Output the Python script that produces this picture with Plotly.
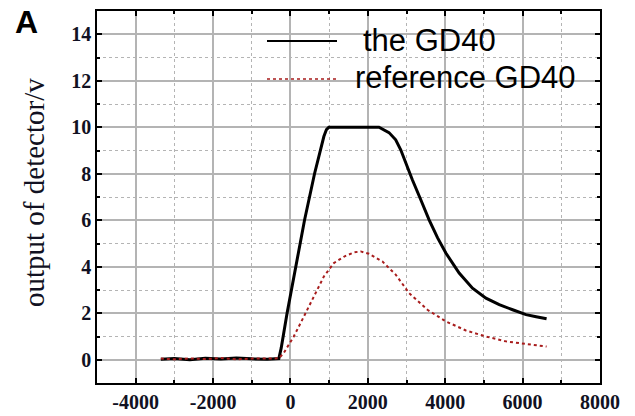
import plotly.graph_objects as go

# ---- data ----
gd40_x = [-3350, -3000, -2600, -2200, -1800, -1400, -1000, -600, -300,
          -240, -88, 130, 363, 622, 777, 863, 930, 992, 1500, 2000, 2288,
          2547, 2720, 2850, 2979, 3150, 3368, 3583, 3800, 4016, 4360, 4705,
          5052, 5396, 5741, 6088, 6350, 6620]
gd40_y = [0.02, 0.05, 0.0, 0.06, 0.03, 0.08, 0.04, 0.02, 0.05,
          0.5, 2.0, 4.0, 6.0, 8.0, 9.0, 9.6, 9.9, 10.0, 10.0, 10.0, 10.0,
          9.77, 9.46, 9.03, 8.46, 7.74, 6.88, 6.02, 5.25, 4.59, 3.73, 3.08,
          2.65, 2.37, 2.15, 1.94, 1.85, 1.76]

ref_x = [-3350, -3000, -2600, -2200, -1800, -1400, -1000, -600, -300, -174,
         85, 347, 604, 863, 1122, 1400, 1650, 1813, 2028, 2373, 2720, 3065,
         3540, 4016, 4534, 5052, 5570, 6088, 6620]
ref_y = [0.05, 0.02, 0.06, 0.03, 0.07, 0.02, 0.05, 0.04, 0.06, 0.29,
         1.0, 1.86, 2.72, 3.58, 4.16, 4.45, 4.62, 4.66, 4.56, 4.23, 3.66, 2.87,
         2.15, 1.65, 1.26, 1.0, 0.79, 0.69, 0.57]

x_tickvals = [-4000, -2000, 0, 2000, 4000, 6000, 8000]
x_ticktext = ["-4000", "-2000", "0", "2000", "4000", "6000", "8000"]
y_tickvals = [0, 2, 4, 6, 8, 10, 12, 14]
y_ticktext = ["0", "2", "4", "6", "8", "10", "12", "14"]

series_names = ["the GD40", "reference GD40"]
panel_label = "A"
y_title = "output of detector/v"

W, H = 635, 416
L, R, T, B = 97, 35, 11, 33
PW, PH = W - L - R, H - T - B

def px(xp):
    return (xp - L) / PW

def py(yp):
    return (H - B - yp) / PH

BLACK = "#000000"
RED = "#a81c1c"
GRID = "#b4b4b4"

fig = go.Figure()
fig.add_trace(go.Scatter(x=gd40_x, y=gd40_y, mode="lines",
                         line=dict(color=BLACK, width=3), showlegend=False))
fig.add_trace(go.Scatter(x=ref_x, y=ref_y, mode="lines",
                         line=dict(color=RED, width=2, dash="dot"), showlegend=False))

tickfont = dict(family="Liberation Serif", size=20, color="#111122")
axis_common = dict(
    showline=True, linecolor="black", linewidth=1.5, mirror="ticks",
    ticks="inside", ticklen=5, tickcolor="black", tickwidth=1.5,
    showgrid=True, gridcolor=GRID, gridwidth=1.5, zeroline=False,
    tickfont=tickfont, automargin=False,
)

fig.update_xaxes(range=[-5000, 8000], tickmode="array", tickvals=x_tickvals,
                 ticktext=["<b>" + t + "</b>" for t in x_ticktext],
                 minor=dict(dtick=1000, tick0=0, showgrid=True, gridcolor=GRID, griddash="dot",
                            gridwidth=1, ticks="inside", ticklen=3, tickcolor="black"),
                 **axis_common)
fig.update_yaxes(range=[-1, 15], tickmode="array", tickvals=y_tickvals,
                 ticktext=["<b>" + t + "</b>" for t in y_ticktext],
                 minor=dict(dtick=1, tick0=0, showgrid=True, gridcolor=GRID, griddash="dot",
                            gridwidth=1, ticks="inside", ticklen=3, tickcolor="black"),
                 **axis_common)

shapes = [
    dict(type="line", xref="paper", yref="paper", x0=px(267), x1=px(337),
         y0=py(41), y1=py(41), line=dict(color=BLACK, width=2)),
    dict(type="line", xref="paper", yref="paper", x0=px(267), x1=px(337),
         y0=py(79), y1=py(79), line=dict(color=RED, width=1.5, dash="dot")),
]

legend_font = dict(family="Liberation Sans", size=31, color="black")
annotations = [
    dict(text=series_names[0], xref="paper", yref="paper", x=px(361), y=py(40),
         xanchor="left", yanchor="middle", showarrow=False, font=legend_font),
    dict(text=series_names[1], xref="paper", yref="paper", x=px(353), y=py(78),
         xanchor="left", yanchor="middle", showarrow=False, font=legend_font),
    dict(text="<b>" + panel_label + "</b>", xref="paper", yref="paper", x=px(13), y=py(22),
         xanchor="left", yanchor="middle", showarrow=False,
         font=dict(family="Liberation Sans", size=32, color="black")),
    dict(text=y_title, xref="paper", yref="paper", x=px(34), y=py(193),
         xanchor="center", yanchor="middle", textangle=-90, showarrow=False,
         font=dict(family="Liberation Serif", size=29, color="#111122")),
]

fig.update_layout(
    width=W, height=H,
    margin=dict(l=L, r=R, t=T, b=B, pad=0, autoexpand=False),
    paper_bgcolor="white", plot_bgcolor="white",
    shapes=shapes, annotations=annotations,
    showlegend=False,
)

fig.write_html(
    "out.html",
    config={"displayModeBar": False},
    post_script="document.body.style.margin='0';document.body.style.overflow='hidden';",
)
